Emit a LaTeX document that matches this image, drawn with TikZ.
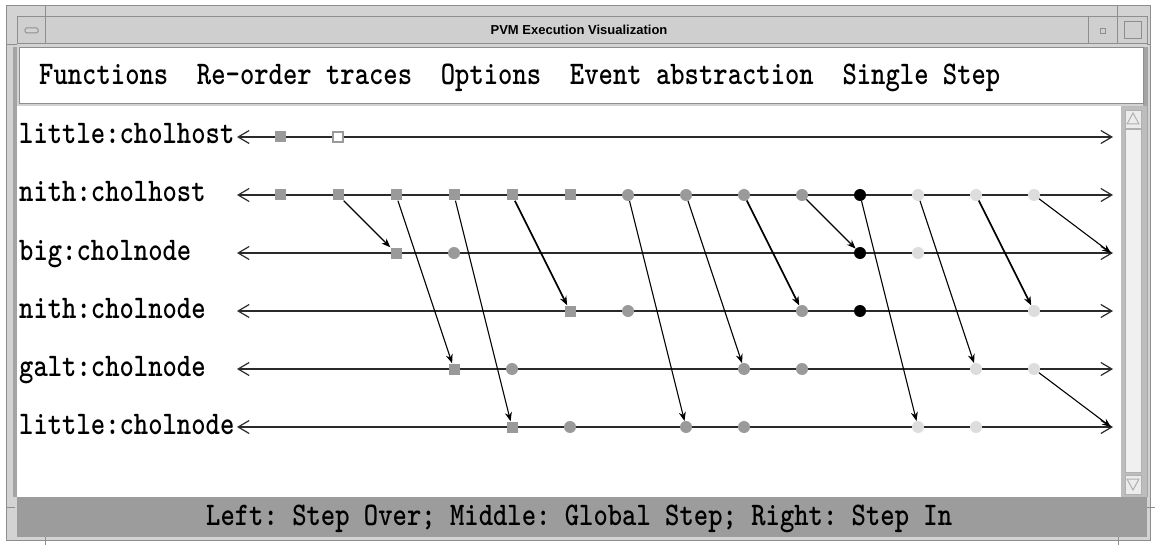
\documentclass[tikz,border=0pt]{standalone}
\usepackage{fontspec}
\usepackage{graphicx}
\usetikzlibrary{arrows.meta}
\newfontfamily\titlefont{Liberation Sans}
\newfontfamily\monob{lmmonolt10-bold}[Extension=.otf]
\newcommand{\mtxt}[1]{\scalebox{0.828}[1]{\fontsize{33}{36}\selectfont\monob\frenchspacing #1}}
\definecolor{frameg}{HTML}{D3D3D3}
\definecolor{edgeg}{HTML}{8E8E8E}
\definecolor{titleg}{HTML}{CFCFCF}
\definecolor{evg}{HTML}{9A9A9A}
\definecolor{evl}{HTML}{DDDDDD}
\definecolor{statg}{HTML}{9C9C9C}
\definecolor{scrollg}{HTML}{BDBDBD}
\definecolor{lineg}{HTML}{2A2A2A}
\tikzset{
  sqmark/.style={rectangle, fill=evg, minimum size=11pt, inner sep=0pt},
  opensq/.style={rectangle, draw=evg, fill=white, line width=1.2pt, minimum size=10pt, inner sep=0pt},
  gcirc/.style={circle, fill=evg, minimum size=12pt, inner sep=0pt},
  lcirc/.style={circle, fill=evl, minimum size=12pt, inner sep=0pt},
  bcirc/.style={circle, fill=black, minimum size=12pt, inner sep=0pt},
  tline/.style={line width=1.5pt, draw=lineg, {Straight Barb[length=11pt,width=13pt,line width=1.2pt]}-{Straight Barb[length=11pt,width=13pt,line width=1.2pt]}},
  msg/.style={line width=1.1pt, draw=black, -{Stealth[length=9pt,width=7pt]}},
  msgthick/.style={msg, line width=1.7pt},
  lbl/.style={anchor=base west, inner sep=0pt},
  panel/.style={draw=edgeg, line width=1pt}
}
\begin{document}
\begin{tikzpicture}[x=1pt,y=-1pt]
\useasboundingbox (0,0) rectangle (1155,545);
\fill[white] (0,0) rectangle (1155,545);
% window frame
\draw[panel, fill=frameg] (6,6) rectangle (1150,540);
\draw[panel, fill=titleg] (17,17) rectangle (1147,44);
\draw[panel, fill=titleg] (17,17) rectangle (45,44);
\draw[edgeg, line width=1pt, fill=frameg, rounded corners=1.5pt] (25,28) rectangle (38,33);
\draw[panel, fill=titleg] (1088,17) rectangle (1117,44);
\draw[edgeg, line width=0.8pt] (1100,28) rectangle (1105,33);
\draw[panel, fill=titleg] (1117,17) rectangle (1147,44);
\draw[edgeg, line width=1pt] (1124,22) rectangle (1141,39);
\node[font=\titlefont\bfseries\fontsize{13}{15}\selectfont, inner sep=0pt] (title) at (579,30) {PVM Execution Visualization};
% frame notches
\draw[edgeg, line width=1pt] (45,6) -- (45,17) (1117,6) -- (1117,17) (6,45) -- (17,45) (1147,45) -- (1150,45)
  (6,507) -- (15,507) (1147,507) -- (1155,507) (45,537) -- (45,545) (1118,537) -- (1118,545);
% side strips
\fill[edgeg!80] (13,47) rectangle (17,497);
\fill[edgeg!80] (1143,47) rectangle (1148,497);
% menu bar
\draw[panel, fill=white] (19,48) rectangle (1143,104);
\node[lbl] (menu) at (39,85) {\mtxt{Functions~~Re-order traces~~Options~~Event abstraction~~Single Step}};
% drawing area
\fill[white] (17,106) rectangle (1121,497);
% scrollbar
\fill[scrollg] (1121,106) rectangle (1147,497);
\draw[edgeg!70, fill=white!85!gray, line width=0.8pt] (1125,110) rectangle (1141,128);
\draw[edgeg!70, line width=1pt] (1127,124) -- (1133,113) -- (1139,124) -- cycle;
\draw[edgeg!70, fill=white!88!gray, line width=1pt] (1125,130) rectangle (1141,472);
\draw[edgeg!70, fill=white!85!gray, line width=0.8pt] (1125,475) rectangle (1141,494);
\draw[edgeg!70, line width=1pt] (1127,479) -- (1133,490) -- (1139,479) -- cycle;
% status bar
\fill[statg] (17,497) rectangle (1147,537);
\node[lbl] (status) at (206,525) {\mtxt{Left: Step Over; Middle: Global Step; Right: Step In}};
% labels
\node[lbl] (l1) at (19,144) {\mtxt{little:cholhost}};
\node[lbl] (l2) at (19,202) {\mtxt{nith:cholhost}};
\node[lbl] (l3) at (19,260) {\mtxt{big:cholnode}};
\node[lbl] (l4) at (19,318) {\mtxt{nith:cholnode}};
\node[lbl] (l5) at (19,376) {\mtxt{galt:cholnode}};
\node[lbl] (l6) at (19,434) {\mtxt{little:cholnode}};
% timelines
\foreach \r/\y in {1/137,2/195,3/253,4/311,5/369,6/427}{
  \coordinate (tL\r) at (237,\y);
  \coordinate (tR\r) at (1113,\y);
  \draw[tline] (tL\r) -- (tR\r);
}
\coordinate (tE3) at (1111,253);
\coordinate (tE6) at (1111,427);
% events
\node[sqmark] (r1c0) at (280,137) {};
\node[opensq] (r1c1) at (338,137) {};
\foreach \c in {0,...,5}{ \node[sqmark] (r2c\c) at ({280+58*\c},195) {}; }
\foreach \c in {6,...,9}{ \node[gcirc] (r2c\c) at ({280+58*\c},195) {}; }
\node[bcirc] (r2c10) at (860,195) {};
\foreach \c in {11,...,13}{ \node[lcirc] (r2c\c) at ({280+58*\c},195) {}; }
\node[sqmark] (r3c2) at (396,253) {};
\node[gcirc] (r3c3) at (454,253) {};
\node[bcirc] (r3c10) at (860,253) {};
\node[lcirc] (r3c11) at (918,253) {};
\node[sqmark] (r4c5) at (570,311) {};
\node[gcirc] (r4c6) at (628,311) {};
\node[gcirc] (r4c9) at (802,311) {};
\node[bcirc] (r4c10) at (860,311) {};
\node[lcirc] (r4c13) at (1034,311) {};
\node[sqmark] (r5c3) at (454,369) {};
\node[gcirc] (r5c4) at (512,369) {};
\node[gcirc] (r5c8) at (744,369) {};
\node[gcirc] (r5c9) at (802,369) {};
\node[lcirc] (r5c12) at (976,369) {};
\node[lcirc] (r5c13) at (1034,369) {};
\node[sqmark] (r6c4) at (512,427) {};
\node[gcirc] (r6c5) at (570,427) {};
\node[gcirc] (r6c7) at (686,427) {};
\node[gcirc] (r6c8) at (744,427) {};
\node[lcirc] (r6c11) at (918,427) {};
\node[lcirc] (r6c12) at (976,427) {};
% messages
\draw[msg] (r2c1) -- (r3c2);
\draw[msg] (r2c2) -- (r5c3);
\draw[msg] (r2c3) -- (r6c4);
\draw[msgthick] (r2c4) -- (r4c5);
\draw[msg] (r2c6) -- (r6c7);
\draw[msg] (r2c7) -- (r5c8);
\draw[msgthick] (r2c8) -- (r4c9);
\draw[msg] (r2c9) -- (r3c10);
\draw[msg] (r2c10) -- (r6c11);
\draw[msg] (r2c11) -- (r5c12);
\draw[msgthick] (r2c12) -- (r4c13);
\draw[msg] (r2c13) -- (tE3);
\draw[msg] (r5c13) -- (tE6);
\end{tikzpicture}
\end{document}
